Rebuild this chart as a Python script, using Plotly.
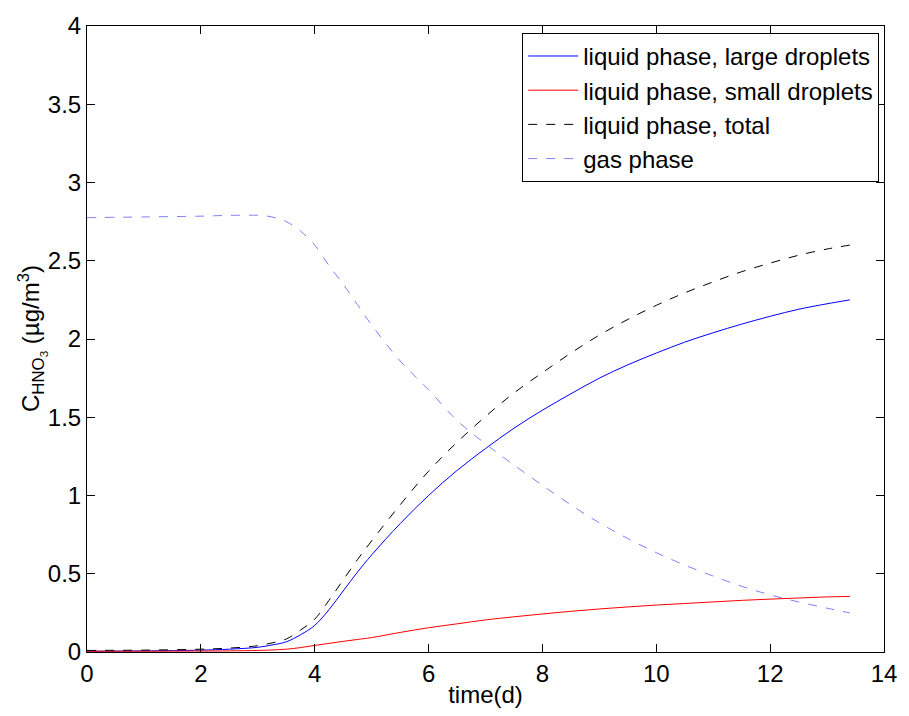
import plotly.graph_objects as go

time_d = [0, 1, 2, 2.5, 3, 3.25, 3.5, 3.75, 4, 4.25, 4.5, 4.75, 5, 5.5, 6, 6.5,
          7, 7.5, 8, 8.5, 9, 9.5, 10, 10.5, 11, 11.5, 12, 12.5, 13, 13.4]

liq_large = [0.005, 0.007, 0.012, 0.018, 0.03, 0.045, 0.065, 0.11, 0.17, 0.27, 0.39, 0.51,
             0.62, 0.82, 1.0, 1.16, 1.30, 1.43, 1.545, 1.65, 1.75, 1.835, 1.91, 1.98,
             2.04, 2.095, 2.145, 2.19, 2.225, 2.25]

liq_small = [0.005, 0.005, 0.006, 0.007, 0.01, 0.013, 0.018, 0.028, 0.042, 0.055, 0.068,
             0.08, 0.092, 0.125, 0.155, 0.18, 0.205, 0.225, 0.243, 0.26, 0.275, 0.288,
             0.30, 0.31, 0.32, 0.33, 0.338, 0.345, 0.352, 0.355]

liq_total = [0.01, 0.012, 0.018, 0.025, 0.04, 0.058, 0.083, 0.14, 0.21, 0.33, 0.46, 0.59,
             0.71, 0.94, 1.155, 1.34, 1.505, 1.655, 1.785, 1.91, 2.025, 2.125, 2.215, 2.295,
             2.365, 2.43, 2.485, 2.535, 2.575, 2.60]

gas = [2.775, 2.78, 2.785, 2.79, 2.79, 2.78, 2.75, 2.69, 2.60, 2.47, 2.35, 2.22, 2.09,
       1.86, 1.675, 1.48, 1.33, 1.195, 1.065, 0.94, 0.825, 0.725, 0.635, 0.555, 0.485, 0.42,
       0.365, 0.32, 0.28, 0.25]

x_ticks = [0, 2, 4, 6, 8, 10, 12, 14]
y_ticks = [0, 0.5, 1, 1.5, 2, 2.5, 3, 3.5, 4]
y_tick_labels = ["0", "0.5", "1", "1.5", "2", "2.5", "3", "3.5", "4"]
y_title = "C<sub>HNO<sub>3</sub></sub> (µg/m<sup>3</sup>)"
x_title = "time(d)"

fig = go.Figure()
fig.add_trace(go.Scatter(x=time_d, y=liq_large, mode="lines", name="liquid phase, large droplets",
                         line=dict(color="#0000ff", width=1, shape="spline")))
fig.add_trace(go.Scatter(x=time_d, y=liq_small, mode="lines", name="liquid phase, small droplets",
                         line=dict(color="#ff0000", width=1, shape="spline")))
fig.add_trace(go.Scatter(x=time_d, y=liq_total, mode="lines", name="liquid phase, total",
                         line=dict(color="#000000", width=1, dash="9px,9px", shape="spline")))
fig.add_trace(go.Scatter(x=time_d, y=gas, mode="lines", name="gas phase",
                         line=dict(color="#8080ff", width=1, dash="9px,9px", shape="spline")))

axis_common = dict(showgrid=False, zeroline=False, showline=True, linecolor="black", linewidth=1,
                   mirror="ticks", ticks="inside", ticklen=8, tickcolor="black",
                   tickfont=dict(size=24, color="black"))

fig.update_layout(
    width=909, height=716,
    margin=dict(l=87, r=19, t=20, b=61),
    paper_bgcolor="white", plot_bgcolor="white",
    font=dict(family="Liberation Sans, Arial, sans-serif", size=24, color="black"),
    xaxis=dict(range=[0, 14], tickvals=x_ticks, title=dict(text=x_title, standoff=0, font=dict(size=24)),
               **axis_common),
    yaxis=dict(range=[0, 4], tickvals=y_ticks, ticktext=y_tick_labels, **axis_common),
    legend=dict(x=0.994, y=0.989, xanchor="right", yanchor="top", bordercolor="black", borderwidth=1,
                bgcolor="white", font=dict(size=24), tracegroupgap=0, itemwidth=50),
    showlegend=True,
    annotations=[dict(text=y_title, textangle=-90, x=0, y=0.5, xref="paper", yref="paper",
                      xanchor="center", yanchor="middle", xshift=-55, showarrow=False,
                      font=dict(size=24, color="black"))],
)

fig.write_html("out.html", config={"displayModeBar": False},
               post_script="document.body.style.margin='0';document.body.style.overflow='hidden';")
